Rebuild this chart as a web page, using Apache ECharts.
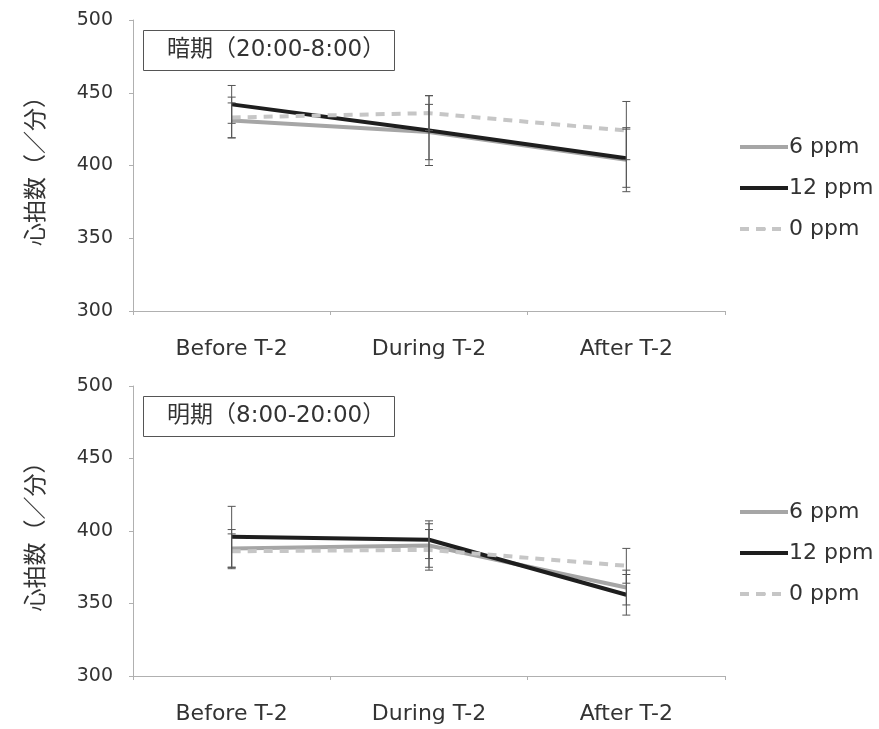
<!DOCTYPE html>
<html>
<head>
<meta charset="utf-8">
<script src="https://cdn.jsdelivr.net/npm/echarts@6/dist/echarts.min.js"></script>
<style>
  html, body { margin: 0; padding: 0; background: #fff; }
  #main { width: 879px; height: 729px; }
</style>
</head>
<body>
<div id="main"></div>
<script>
// カテゴリ
var categories = ['Before T-2', 'During T-2', 'After T-2'];
var seriesNames = ['6 ppm', '12 ppm', '0 ppm'];
var yTicks = [300, 350, 400, 450, 500];

// 暗期 (20:00-8:00)
var dark6 = [431, 423, 404];
var dark12 = [442, 424, 405];
var dark0 = [433, 436, 424];
var darkErr6 = [12, 19, 22];
var darkErr12 = [13, 24, 20];
var darkErr0 = [14, 12, 20];

// 明期 (8:00-20:00)
var light6 = [388, 390, 361];
var light12 = [396, 394, 356];
var light0 = [386, 387, 376];
var lightErr6 = [13, 15, 12];
var lightErr12 = [21, 13, 14];
var lightErr0 = [12, 14, 12];

var font = 'DejaVu Sans, Noto Sans CJK JP, sans-serif';

function errData(vals, errs) {
  return vals.map(function (v, i) { return [i, v - errs[i], v + errs[i]]; });
}

// エラーバー（縦線＋キャップ）
function renderErr(params, api) {
  var lo = api.coord([api.value(0), api.value(1)]);
  var hi = api.coord([api.value(0), api.value(2)]);
  var w = 4;
  var st = { stroke: '#555', lineWidth: 1 };
  return {
    type: 'group',
    children: [
      { type: 'line', shape: { x1: lo[0], y1: lo[1], x2: hi[0], y2: hi[1] }, style: st },
      { type: 'line', shape: { x1: lo[0] - w, y1: lo[1], x2: lo[0] + w, y2: lo[1] }, style: st },
      { type: 'line', shape: { x1: hi[0] - w, y1: hi[1], x2: hi[0] + w, y2: hi[1] }, style: st }
    ]
  };
}

var lineStyles = {
  '6 ppm': { color: '#a6a6a6', width: 4, type: 'solid' },
  '12 ppm': { color: '#1e1e1e', width: 4, type: 'solid' },
  '0 ppm': { color: '#c6c6c6', width: 4, type: [9, 7] }
};

function makeLines(idx, d6, d12, d0) {
  var list = [];
  [[seriesNames[0], d6, 3], [seriesNames[1], d12, 4], [seriesNames[2], d0, 5]].forEach(function (s) {
    list.push({
      name: s[0],
      type: 'line',
      xAxisIndex: idx,
      yAxisIndex: idx,
      data: s[1],
      symbol: 'none',
      z: s[2],
      color: lineStyles[s[0]].color,
      lineStyle: lineStyles[s[0]]
    });
  });
  return list;
}

function makeErrs(idx, pairs) {
  return pairs.map(function (p) {
    return {
      type: 'custom',
      xAxisIndex: idx,
      yAxisIndex: idx,
      renderItem: renderErr,
      encode: { x: 0, y: [1, 2] },
      data: errData(p[0], p[1]),
      z: 6,
      silent: true
    };
  });
}

function xAxisCfg(idx) {
  return {
    type: 'category',
    gridIndex: idx,
    data: categories,
    axisLine: { lineStyle: { color: '#b0b0b0', width: 1 } },
    axisTick: { show: true, length: 4, lineStyle: { color: '#b0b0b0' } },
    axisLabel: { color: '#333', fontSize: 22, fontFamily: font, margin: 27 },
    splitLine: { show: false }
  };
}

function yAxisCfg(idx) {
  return {
    type: 'value',
    gridIndex: idx,
    min: yTicks[0],
    max: yTicks[yTicks.length - 1],
    interval: 50,
    name: '心拍数（／分）',
    nameLocation: 'middle',
    nameRotate: 90,
    nameGap: 84,
    nameTextStyle: { color: '#333', fontSize: 23, fontFamily: font },
    axisLine: { show: true, lineStyle: { color: '#b0b0b0', width: 1 } },
    axisTick: { show: true, length: 4, lineStyle: { color: '#b0b0b0' } },
    axisLabel: { color: '#333', fontSize: 19, fontFamily: font, margin: 20 },
    splitLine: { show: false }
  };
}

function titleCfg(text, top) {
  return {
    text: text,
    left: 143,
    top: top,
    padding: [9, 10, 9, 24],
    borderColor: '#555',
    borderWidth: 1,
    textStyle: { color: '#333', fontSize: 23, fontWeight: 'normal', fontFamily: font }
  };
}

function legendCfg(top) {
  return {
    orient: 'vertical',
    left: 733,
    top: top,
    data: seriesNames,
    itemWidth: 48,
    itemHeight: 5,
    itemGap: 19,
    selectedMode: false,
    lineStyle: { width: 4 },
    textStyle: { color: '#333', fontSize: 22, fontFamily: font, padding: [0, 0, 0, -4] }
  };
}

var myChart = echarts.init(document.getElementById('main'));
var option = {
  backgroundColor: '#fff',
  animation: false,
  title: [
    titleCfg('暗期（20:00-8:00）', 30),
    titleCfg('明期（8:00-20:00）', 396)
  ],
  legend: [legendCfg(131), legendCfg(496)],
  grid: [
    { left: 133, top: 20, width: 592, height: 291 },
    { left: 133, top: 386, width: 592, height: 290 }
  ],
  xAxis: [xAxisCfg(0), xAxisCfg(1)],
  yAxis: [yAxisCfg(0), yAxisCfg(1)],
  series: [].concat(
    makeLines(0, dark6, dark12, dark0),
    makeLines(1, light6, light12, light0),
    makeErrs(0, [[dark6, darkErr6], [dark12, darkErr12], [dark0, darkErr0]]),
    makeErrs(1, [[light6, lightErr6], [light12, lightErr12], [light0, lightErr0]])
  )
};
myChart.setOption(option);
</script>
</body>
</html>
